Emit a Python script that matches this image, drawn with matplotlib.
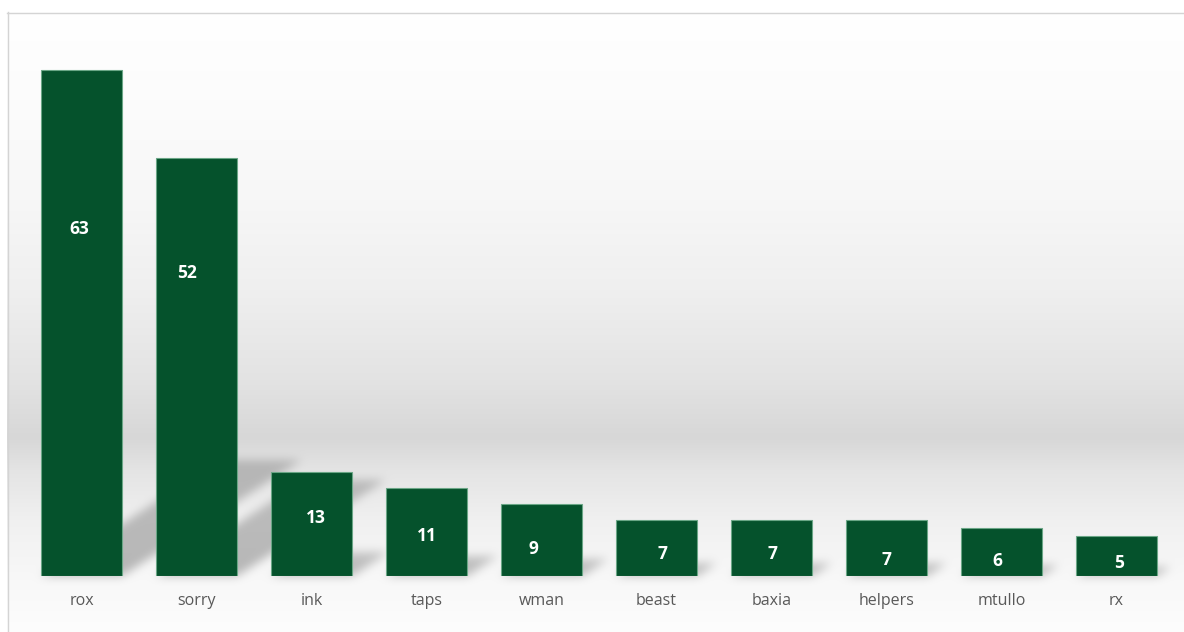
import numpy as np
import matplotlib.pyplot as plt

# data
names = ['rox', 'sorry', 'ink', 'taps', 'wman', 'beast', 'baxia', 'helpers', 'mtullo', 'rx']
counts = [63, 52, 13, 11, 9, 7, 7, 7, 6, 5]

# where each value label sits inside its bar (data units) and a small sideways nudge
label_y = [43.2, 37.7, 7.2, 5.0, 3.4, 2.8, 2.8, 2.0, 1.9, 1.6]
label_dx = [-0.02, -0.08, 0.04, 0.0, -0.07, 0.05, 0.01, 0.0, -0.04, 0.02]

W, H = 1184, 632
bar_w = 0.704
green = '#05522c'

fig = plt.figure(figsize=(W / 100, H / 100), dpi=100)
bg = fig.add_axes([0, 0, 1, 1], zorder=0)
ax = fig.add_axes([7 / W, 56 / H, (W - 7) / W, 564 / H], zorder=1)
ax.patch.set_alpha(0)

x = np.arange(len(names))
ax.bar(x, counts, width=bar_w, color=green, edgecolor='#6aa686', linewidth=0.8, zorder=3)
ax.set_xlim(-0.648, 9.587)
ax.set_ylim(0, 70.24)
ax.set_xticks(x)
ax.set_xticklabels(names, fontsize=11.5, color='#595959', family=['Open Sans', 'DejaVu Sans'])
ax.tick_params(axis='x', length=0, pad=12)
ax.set_yticks([])
for s in ax.spines.values():
    s.set_visible(False)

for i, v in enumerate(counts):
    ax.text(i + label_dx[i], label_y[i], str(v), ha='center', va='center', color='white',
            fontsize=12.5, fontweight='bold', family=['Open Sans', 'DejaVu Sans'], zorder=4)

# background: vertical grey gradient inside the frame
rows = np.arange(H) + 0.5
stops_y = [12, 100, 200, 290, 380, 438, 470, 520, 580, 632]
stops_g = [255, 252, 247, 239, 227, 215, 228, 240, 248, 253]
grey = np.interp(rows, stops_y, stops_g) / 255.0

# perspective shadows thrown back and to the right of each bar
cols = np.arange(W)[None, :] + 0.5
rr = rows[:, None]
shadow = np.zeros((H, W))
for i, v in enumerate(counts):
    (xl, yb), (xr, yt) = ax.transData.transform([(i - bar_w / 2, 0), (i + bar_w / 2, v)])
    yb, yt = H - yb, H - yt
    sh = 0.23 * (yb - yt)
    t = (yb - rr) / sh
    shift = (yb - rr) * 1.55
    m = (t >= 0) & (t <= 1) & (cols >= xl + shift) & (cols <= xr + shift)
    shadow = np.maximum(shadow, m * (1 - 0.25 * np.clip(t, 0, 1)))


def box_blur(a, r, axis):
    a = np.swapaxes(a, 0, axis)
    pad = np.concatenate([np.repeat(a[:1], r, 0), a, np.repeat(a[-1:], r, 0)])
    c = np.cumsum(np.concatenate([np.zeros_like(pad[:1]), pad]), axis=0)
    out = (c[2 * r + 1:] - c[:-2 * r - 1]) / (2 * r + 1)
    return np.swapaxes(out, 0, axis)


for _ in range(3):
    shadow = box_blur(shadow, 4, 0)
    shadow = box_blur(shadow, 4, 1)

img = grey[:, None] * (1 - 0.26 * shadow)
img[:12, :] = 1.0
img[:, :7] = 1.0
img = np.dstack([img, img, img])

bg.imshow(img, extent=[0, W, 0, H], origin='upper', aspect='auto', interpolation='bilinear')
bg.plot([7.5, 7.5], [0, H - 12], color='#d4d4d4', lw=1)
bg.plot([7, W], [H - 12.5, H - 12.5], color='#d4d4d4', lw=1)
bg.set_xlim(0, W)
bg.set_ylim(0, H)
bg.axis('off')

fig.savefig('out.png', dpi=100)
